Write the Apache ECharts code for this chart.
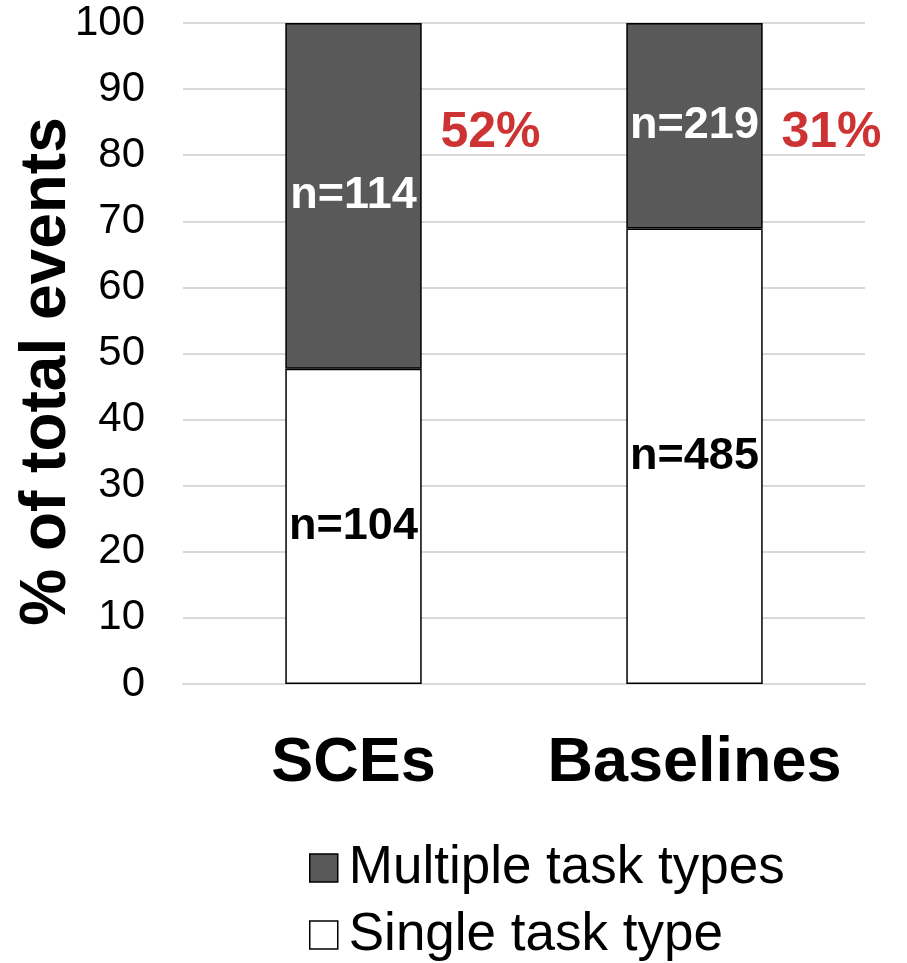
<!DOCTYPE html>
<html>
<head>
<meta charset="utf-8">
<script src="https://cdn.jsdelivr.net/npm/echarts@6/dist/echarts.min.js"></script>
<style>html,body{margin:0;padding:0;background:#fff}#c{width:907px;height:963px}</style>
</head>
<body>
<div id="c"></div>
<script>
const categories = ['SCEs', 'Baselines'];
const singlePct = [47.7, 68.9];
const multiplePct = [52.3, 31.1];
const singleN = ['n=104', 'n=485'];
const multipleN = ['n=114', 'n=219'];
const shareLabels = ['52%', '31%'];
const shareLabelY = [83.4, 83.4];
const yTicks = [0, 10, 20, 30, 40, 50, 60, 70, 80, 90, 100];

const FONT = "'Liberation Sans', Arial, sans-serif";
const chart = echarts.init(document.getElementById('c'), null, {renderer: 'canvas'});
chart.setOption({
  animation: false,
  backgroundColor: '#fff',
  grid: {left: 183, right: 42, top: 23, bottom: 279, outerBoundsMode: 'none', containLabel: false},
  legend: {
    orient: 'vertical', left: 309, top: 841, bottom: -20, padding: 0,
    itemWidth: 28, itemHeight: 28, itemGap: 13,
    textStyle: {fontFamily: FONT, fontSize: 53, lineHeight: 54, color: '#000', padding: [0, 0, 0, 6]},
    data: [
      {name: 'Multiple task types', icon: 'rect', itemStyle: {color: '#595959', borderColor: '#000', borderWidth: 1.5}},
      {name: 'Single task type', icon: 'rect', itemStyle: {color: '#fff', borderColor: '#000', borderWidth: 1.5}}
    ]
  },
  xAxis: {
    type: 'category', data: categories,
    axisLine: {lineStyle: {color: '#d9d9d9', width: 2}},
    axisTick: {show: false},
    axisLabel: {interval: 0, fontFamily: FONT, fontSize: 63, fontWeight: 'bold', color: '#000', margin: 48}
  },
  yAxis: {
    type: 'value', min: yTicks[0], max: yTicks[yTicks.length - 1], interval: 10,
    name: '% of total events', nameLocation: 'middle', nameRotate: 90, nameGap: 104,
    nameMoveOverlap: false,
    nameTextStyle: {fontFamily: FONT, fontSize: 64, fontWeight: 'bold', color: '#000', padding: [0, 36, 0, 0]},
    axisLine: {show: false}, axisTick: {show: false},
    axisLabel: {fontFamily: FONT, fontSize: 42, color: '#000', margin: 38},
    splitLine: {lineStyle: {color: '#d9d9d9', width: 2}}
  },
  series: [
    {
      name: 'Single task type', type: 'bar', stack: 's', barWidth: '40%',
      data: singlePct,
      itemStyle: {color: '#fff', borderColor: '#000', borderWidth: 1.5},
      label: {show: true, position: 'inside', formatter: p => singleN[p.dataIndex],
        fontFamily: FONT, fontSize: 45, fontWeight: 'bold', color: '#000'}
    },
    {
      name: 'Multiple task types', type: 'bar', stack: 's', barWidth: '40%',
      data: multiplePct,
      itemStyle: {color: '#595959', borderColor: '#000', borderWidth: 1.5},
      label: {show: true, position: 'inside', formatter: p => multipleN[p.dataIndex],
        fontFamily: FONT, fontSize: 45, fontWeight: 'bold', color: '#fff'}
    },
    {
      name: 'share', type: 'scatter', symbolSize: 0, data: shareLabelY,
      silent: true,
      label: {show: true, position: 'inside', offset: [137, 0], formatter: p => shareLabels[p.dataIndex],
        fontFamily: FONT, fontSize: 50, fontWeight: 'bold', color: '#c00000'}
    }
  ]
});
</script>
</body>
</html>
